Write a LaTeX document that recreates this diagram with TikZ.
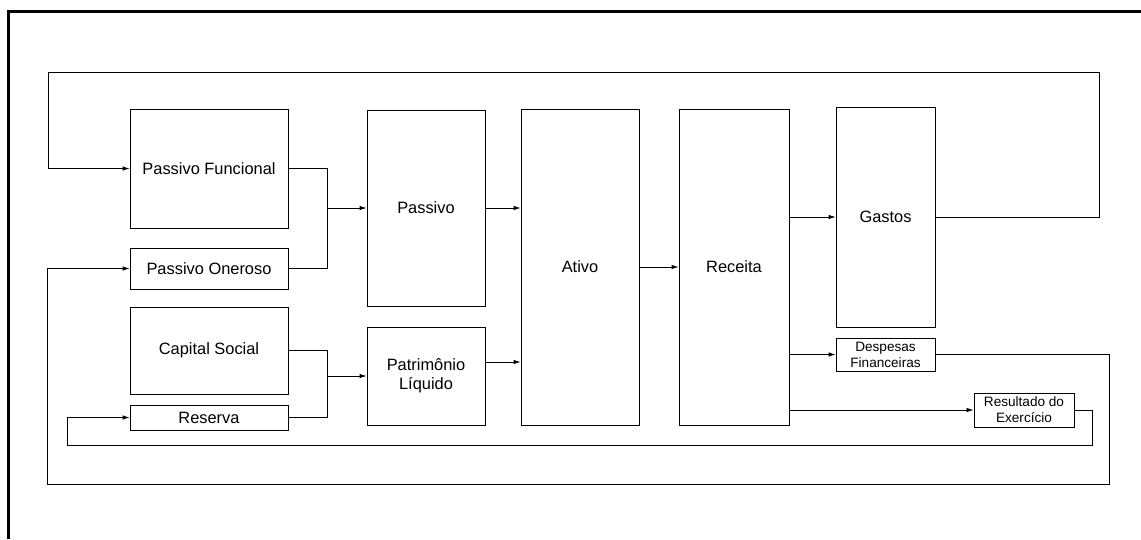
\documentclass[tikz,border=0pt]{standalone}
\usepackage{fontspec}
\setmainfont{Liberation Sans}
\usetikzlibrary{arrows.meta}
\begin{document}
\begin{tikzpicture}[x=1pt,y=-1pt,
  box/.style={draw=black, line width=0.8pt, inner sep=0pt, align=center,
    font=\fontsize{16.4}{19}\selectfont},
  smallbox/.style={box, font=\fontsize{13.6}{16}\selectfont},
  conn/.style={draw=black, line width=0.8pt},
  arr/.style={conn, -{Latex[length=7pt,width=4.5pt]}},
  frame/.style={draw=black, line width=3pt}]
\useasboundingbox (0,0) rectangle (1141,539);
% frame (top and left edges)
\coordinate (fbl) at (8,539);
\coordinate (ftl) at (8,11);
\coordinate (ftr) at (1141,11);
\draw[frame] (fbl) -- (ftl) -- (ftr);

% nodes
\node[box, minimum width=158pt, minimum height=119pt] (pf) at (209,168.5) {Passivo Funcional};
\node[box, minimum width=158pt, minimum height=41pt] (po) at (209,268.5) {Passivo Oneroso};
\node[box, minimum width=158pt, minimum height=87pt] (cs) at (209,350.5) {Capital Social};
\node[box, minimum width=158pt, minimum height=25pt] (res) at (209,417.5) {Reserva};
\node[box, minimum width=118pt, minimum height=196pt] (pas) at (426,208) {Passivo};
\node[box, minimum width=118pt, minimum height=98pt] (pl) at (426,376) {Patrimônio\\Líquido};
\node[box, minimum width=118pt, minimum height=316pt] (ativo) at (580,267) {Ativo};
\node[box, minimum width=110pt, minimum height=316pt] (rec) at (734,267) {Receita};
\node[box, minimum width=99pt, minimum height=220pt] (gas) at (885.5,217) {Gastos};
\node[smallbox, minimum width=99pt, minimum height=33pt] (desp) at (885.5,354.5) {Despesas\\Financeiras};
\node[smallbox, minimum width=100pt, minimum height=34pt] (resul) at (1024,410) {Resultado do\\Exercício};

% junctions and corners
\coordinate (j1) at (327,208);
\coordinate (j2) at (327,376);
\coordinate (c1) at (1099,72);
\coordinate (c2) at (48,72);
\coordinate (c3) at (1109,484);
\coordinate (c4) at (47,484);
\coordinate (c5) at (1092,445);
\coordinate (c6) at (67,445);

% connectors
\draw[conn] (pf.east) -| (j1);
\draw[conn] (po.east) -| (j1);
\draw[arr] (j1) -- (pas.west);
\draw[conn] (cs.east) -| (j2);
\draw[conn] (res.east) -| (j2);
\draw[arr] (j2) -- (pl.west);
\draw[arr] (pas.east) -- (pas.east -| ativo.west);
\draw[arr] ([yshift=14pt]pl.east) -- ([yshift=14pt]pl.east -| ativo.west);
\draw[arr] (ativo.east) -- (rec.west);
\draw[arr] (rec.east |- gas.west) -- (gas.west);
\draw[arr] (rec.east |- desp.west) -- (desp.west);
\draw[arr] (rec.east |- resul.west) -- (resul.west);
\draw[arr] (gas.east) -| (c1) -- (c2) |- (pf.west);
\draw[arr] (desp.east) -| (c3) -- (c4) |- (po.west);
\draw[arr] (resul.east) -| (c5) -- (c6) |- (res.west);
\end{tikzpicture}
\end{document}
